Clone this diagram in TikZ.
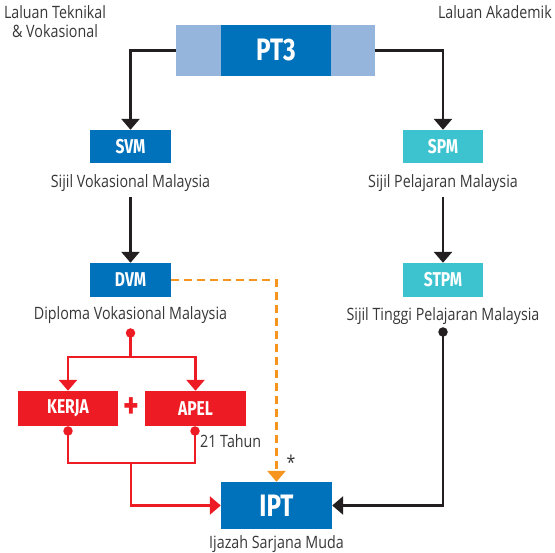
\documentclass[tikz,border=0pt]{standalone}
\usepackage{fontspec}
\setmainfont{Open Sans}[FakeStretch=0.84]
\newfontfamily\boxfont{Fira Sans}[FakeStretch=0.78]
\usetikzlibrary{arrows.meta}
\definecolor{dblue}{RGB}{0,114,188}
\definecolor{lblue}{RGB}{150,181,221}
\definecolor{cyanb}{RGB}{60,195,207}
\definecolor{redb}{RGB}{237,28,36}
\definecolor{orangeb}{RGB}{247,148,29}
\definecolor{txt}{RGB}{55,55,55}
\definecolor{blk}{RGB}{35,31,32}
\tikzset{
  box/.style={inner sep=0pt, text=white, font=\boxfont\bfseries\fontsize{20}{20}\selectfont},
  bigbox/.style={box, font=\boxfont\bfseries\fontsize{31}{31}\selectfont},
  lbl/.style={inner sep=0pt, text=txt, font=\fontsize{17}{19}\selectfont},
  blkline/.style={draw=blk, line width=2.8pt},
  redline/.style={draw=redb, line width=2.8pt},
  orgline/.style={draw=orangeb, line width=2.8pt, dash pattern=on 8pt off 5pt},
  tip/.style={-{Triangle[width=18pt,length=11pt]}},
  dot/.style={circle, inner sep=0pt, minimum size=9.5pt}
}
\begin{document}
\begin{tikzpicture}[x=1pt,y=-1pt]
\useasboundingbox (0,0) rectangle (555,553);
% PT3
\node[fill=lblue, minimum width=199pt, minimum height=51pt, inner sep=0pt] (pt3bg) at (275.5,50.5) {};
\node[bigbox, fill=dblue, minimum width=110pt, minimum height=51pt] (pt3) at (276,50.5) {PT3};
\node[lbl, align=center, anchor=north] (lt) at (55,5) {Laluan Teknikal\\\& Vokasional};
\node[lbl, anchor=north east] (la) at (552,5) {Laluan Akademik};
% left column
\node[box, fill=dblue, minimum width=81pt, minimum height=33pt] (svm) at (130.5,146.5) {SVM};
\node[lbl] (svmt) at (130.5,183) {Sijil Vokasional Malaysia};
\node[box, fill=dblue, minimum width=81pt, minimum height=34pt] (dvm) at (130.5,280) {DVM};
\node[lbl] (dvmt) at (130.5,315) {Diploma Vokasional Malaysia};
% right column
\node[box, fill=cyanb, minimum width=80pt, minimum height=33pt] (spm) at (443,146.5) {SPM};
\node[lbl] (spmt) at (443,183) {Sijil Pelajaran Malaysia};
\node[box, fill=cyanb, minimum width=80pt, minimum height=34pt] (stpm) at (443,280) {STPM};
\node[lbl] (stpmt) at (443,316) {Sijil Tinggi Pelajaran Malaysia};
% red boxes
\node[box, fill=redb, minimum width=100pt, minimum height=35pt] (kerja) at (68,408.5) {KERJA};
\node[box, fill=redb, minimum width=101pt, minimum height=35pt] (apel) at (195.5,408.5) {APEL};
\node[text=redb, font=\boxfont\bfseries\fontsize{38}{38}\selectfont, inner sep=0pt] (plus) at (131,408) {+};
\node[lbl, anchor=west] (tahun) at (200,441) {21 Tahun};
% IPT
\node[bigbox, fill=dblue, minimum width=111pt, minimum height=47pt] (ipt) at (276.5,505.5) {IPT};
\node[lbl] (iptt) at (276.5,544) {Ijazah Sarjana Muda};
\node[text=txt, font=\fontsize{19}{19}\selectfont, inner sep=0pt] (star) at (291,462) {*};
% dots
\node[dot, fill=redb] (d1) at (130.5,333) {};
\node[dot, fill=redb] (d2) at (68,431) {};
\node[dot, fill=redb] (d3) at (195,431) {};
\node[dot, fill=blk] (d4) at (443,332) {};
\coordinate (rj) at (130.5,357);
\coordinate (rb) at (131,463);
% connectors
\draw[blkline, tip] (pt3bg.west) -| (svm.north);
\draw[blkline, tip] (pt3bg.east) -| (spm.north);
\draw[blkline, tip] (130.5,197) -- (dvm.north);
\draw[blkline, tip] (443,197) -- (stpm.north);
\draw[redline] (d1.center) -- (rj);
\draw[redline, tip] (rj) -| (kerja.north);
\draw[redline, tip] (rj) -| (apel.north);
\draw[redline] (d2.center) |- (rb) -| (d3.center);
\draw[redline, tip] (rb) |- (ipt.west);
\draw[blkline, tip] (d4.center) |- (ipt.east);
\draw[orgline, tip] (dvm.east) -| (ipt.north);
\end{tikzpicture}
\end{document}
